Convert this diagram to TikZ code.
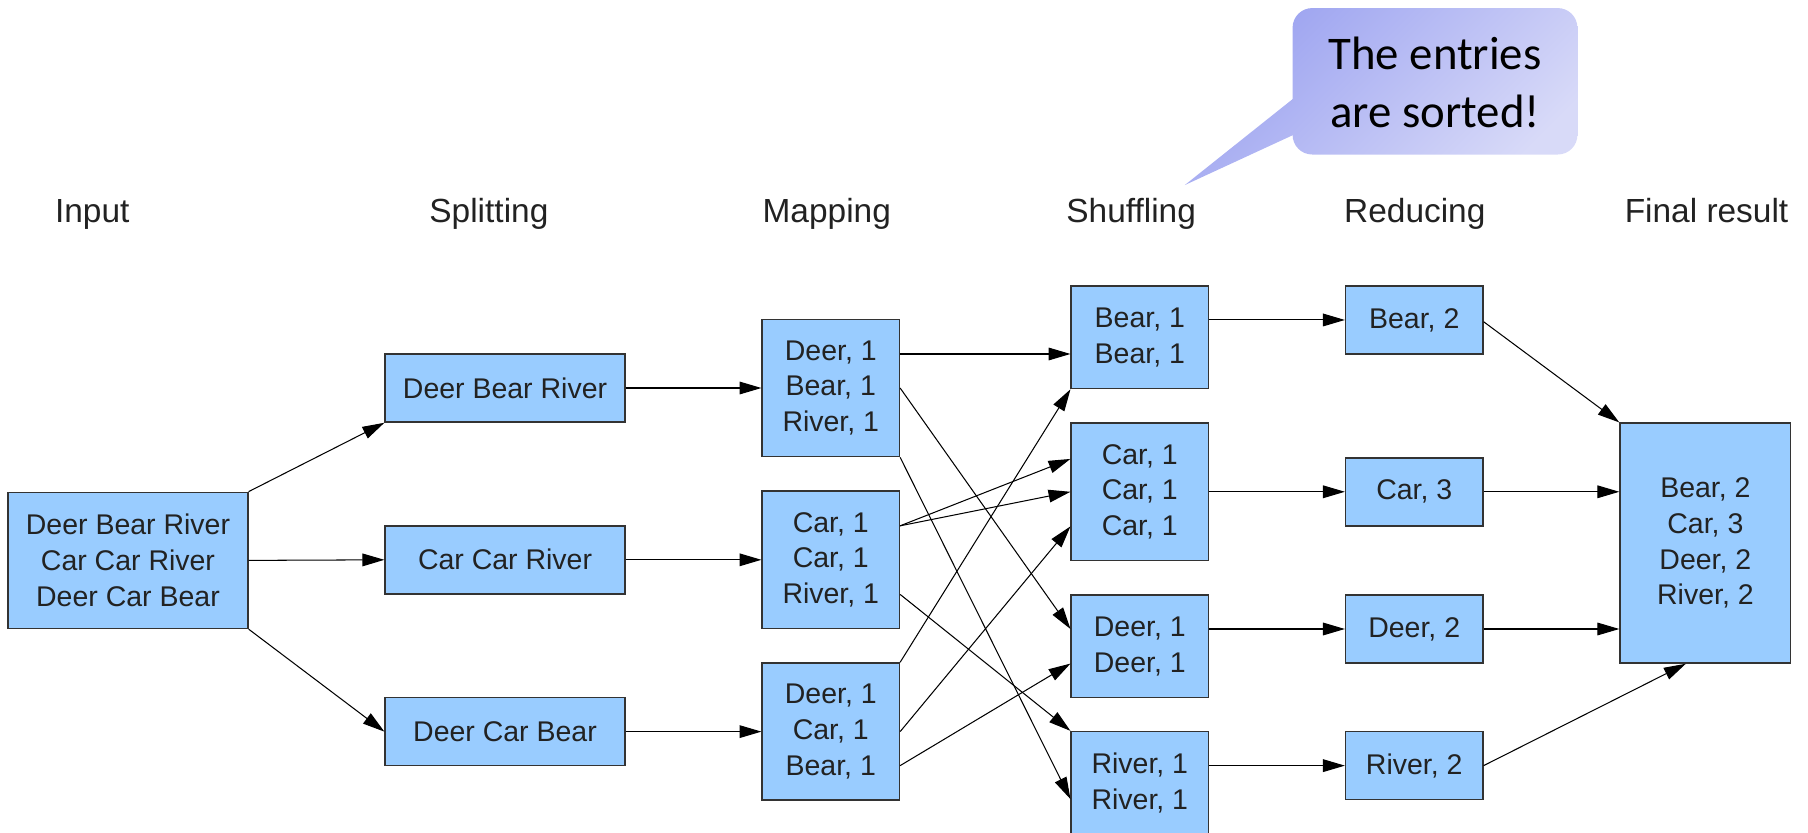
\documentclass[tikz,border=0pt]{standalone}
\usepackage{fontspec}
\setmainfont{Liberation Sans}
\newfontfamily\notefont{Carlito}
\usepackage{xcolor}
\usetikzlibrary{arrows.meta}
\usetikzlibrary{calc, math}

\definecolor{boxfill}{HTML}{99CCFF}
\definecolor{boxline}{HTML}{333333}
\definecolor{txt}{HTML}{222222}
\definecolor{noteA}{HTML}{9AA1F0}
\definecolor{noteB}{HTML}{D8DAF8}

\begin{document}
\begin{tikzpicture}[x=1pt, y=-1pt,
 box/.style={draw=boxline, line width=1.3pt, fill=boxfill, text=txt, align=center, inner sep=0pt, font=\fontsize{24.7}{31}\selectfont},
 stage/.style={text=txt, anchor=base, inner sep=0pt, font=\fontsize{29}{35}\selectfont},
 flow/.style={-{Triangle[length=19pt,width=11pt]}, line width=0.9pt},
 noteshade/.style={top color=noteA, bottom color=noteB, shading angle=45}
]
\tikzmath{
\cI=111; \cS=438; \cM=720.5; \cH=988.5; \cR=1226.5; \cF=1479;
}
\useasboundingbox (0,0) rectangle (1568,722);

 %stage titles:
 \node[stage] (lIn) at (80,193) {Input};
 \node[stage] (lSplit) at (424,193) {Splitting};
 \node[stage] (lMap) at (717,193) {Mapping};
 \node[stage] (lShuf) at (981,193) {Shuffling};
 \node[stage] (lRed) at (1227,193) {Reducing};
 \node[stage] (lRes) at (1480,193) {Final result};

 %boxes:
 \node[box, minimum width=208, minimum height=118] (in) at (\cI,486) {Deer Bear River\\Car Car River\\Deer Car Bear};

 \node[box, minimum width=208, minimum height=59] (split1) at (\cS,336.5) {Deer Bear River};
 \node[box, minimum width=208, minimum height=59] (split2) at (\cS,485.5) {Car Car River};
 \node[box, minimum width=208, minimum height=59] (split3) at (\cS,634.5) {Deer Car Bear};

 \node[box, minimum width=119, minimum height=119] (map1) at (\cM,336.5) {Deer, 1\\Bear, 1\\River, 1};
 \node[box, minimum width=119, minimum height=119] (map2) at (\cM,485.5) {Car, 1\\Car, 1\\River, 1};
 \node[box, minimum width=119, minimum height=119] (map3) at (\cM,634.5) {Deer, 1\\Car, 1\\Bear, 1};

 \node[box, minimum width=119, minimum height=89] (shuf1) at (\cH,292.5) {Bear, 1\\Bear, 1};
 \node[box, minimum width=119, minimum height=119] (shuf2) at (\cH,426.5) {Car, 1\\Car, 1\\Car, 1};
 \node[box, minimum width=119, minimum height=89] (shuf3) at (\cH,560.5) {Deer, 1\\Deer, 1};
 \node[box, minimum width=119, minimum height=89] (shuf4) at (\cH,679) {River, 1\\River, 1};

 \node[box, minimum width=119, minimum height=59] (red1) at (\cR,277.5) {Bear, 2};
 \node[box, minimum width=119, minimum height=59] (red2) at (\cR,426.5) {Car, 3};
 \node[box, minimum width=119, minimum height=59] (red3) at (\cR,545.5) {Deer, 2};
 \node[box, minimum width=119, minimum height=59] (red4) at (\cR,664) {River, 2};

 \node[box, minimum width=148, minimum height=208] (res) at (\cF,471) {Bear, 2\\Car, 3\\Deer, 2\\River, 2};

 %input -> splitting:
 \draw[flow] (in.north east) -- (split1.south west);
 \draw[flow] (in.east) -- (split2.west);
 \draw[flow] (in.south east) -- (split3.west);

 %splitting -> mapping:
 \foreach \i in {1,2,3}
  \draw[flow] (split\i.east) -- (map\i.west);

 %mapping -> shuffling:
 \draw[flow] ($(map1.east)+(0,-29.5)$) -- ($(shuf1.west)+(0,14.5)$);
 \draw[flow] (map1.east) -- ($(shuf3.west)+(0,-15)$);
 \draw[flow] (map1.south east) -- ($(shuf4.west)+(0,14)$);
 \draw[flow] ($(map2.east)+(0,-29.5)$) -- ($(shuf2.west)+(0,-28.5)$);
 \draw[flow] ($(map2.east)+(0,-29.5)$) -- (shuf2.west);
 \draw[flow] ($(map2.east)+(0,30)$) -- (shuf4.north west);
 \draw[flow] (map3.north east) -- (shuf1.south west);
 \draw[flow] (map3.east) -- ($(shuf2.west)+(0,30)$);
 \draw[flow] ($(map3.east)+(0,29.5)$) -- ($(shuf3.west)+(0,15)$);

 %shuffling -> reducing:
 \draw[flow] ($(shuf1.east)+(0,-15)$) -- (red1.west);
 \draw[flow] (shuf2.east) -- (red2.west);
 \draw[flow] ($(shuf3.east)+(0,-15)$) -- (red3.west);
 \draw[flow] ($(shuf4.east)+(0,-15)$) -- (red4.west);

 %reducing -> result:
 \draw[flow] ($(red1.east)+(0,1.5)$) -- (res.north west);
 \draw[flow] (red2.east) -- (red2.east -| res.west);
 \draw[flow] (red3.east) -- (red3.east -| res.west);
 \draw[flow] (red4.east) -- ($(res.south)+(-17,0)$);

 %callout:
 \coordinate (tip) at (1027.5,160.5);
 \begin{scope}
  \clip[rounded corners=17pt] (1121,7) rectangle (1368,134);
  \shade[noteshade] (1020,7) rectangle (1368,162);
 \end{scope}
 \begin{scope}
  \clip (tip) -- (1126,82) -- (1126,115) -- cycle;
  \shade[noteshade] (1020,7) rectangle (1368,162);
 \end{scope}
 \node[font=\notefont\fontsize{40.6}{49.5}\selectfont, align=center, text=black] (note) at (1244.5,71.5) {The entries\\are sorted!};
\end{tikzpicture}
\end{document}
